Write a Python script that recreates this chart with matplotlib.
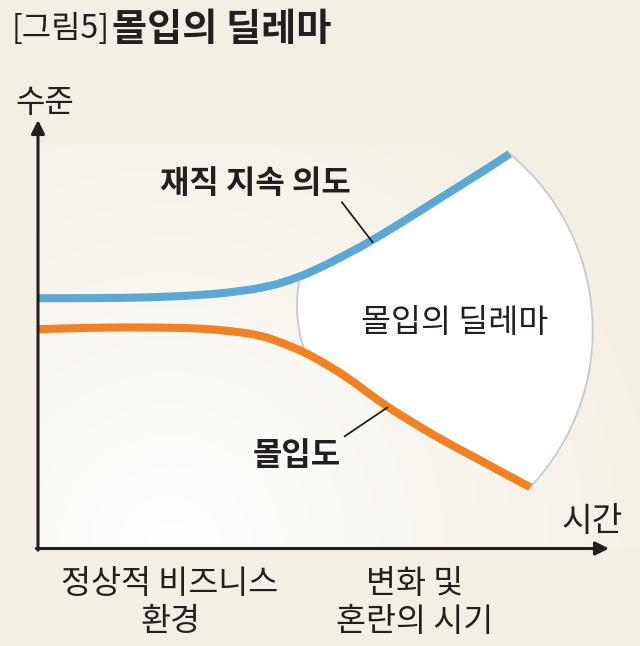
import numpy as np
import matplotlib
matplotlib.use("Agg")
import matplotlib.pyplot as plt
from matplotlib.path import Path
from matplotlib.patches import PathPatch

plt.rcParams['font.family'] = ['Noto Sans CJK KR', 'DejaVu Sans']

# chart data (time 0-100, level 0-100)
blue_t = [0, 10.9, 19.8, 28.6, 35.6, 40.9, 44.4, 48.5, 53.8, 59.1, 65.6, 71.8, 78.0, 83.2]
blue_l = [58.4, 58.4, 58.6, 59.1, 60.0, 61.2, 62.6, 64.7, 68.2, 72.0, 77.3, 82.5, 87.6, 92.1]
orange_t = [0, 10.9, 19.8, 28.6, 34.4, 39.2, 43.2, 46.2, 49.7, 54.5, 58.0, 61.6, 65.6, 69.1, 73.5, 78.0, 82.4, 86.8]
orange_l = [51.2, 51.6, 51.6, 51.4, 50.7, 49.8, 47.9, 46.3, 43.9, 40.0, 36.5, 33.1, 29.8, 27.0, 23.7, 20.6, 17.4, 14.3]

# dilemma region edges (bezier control points in data units)
right_arc = [(83.2, 92.1), (101.2, 72.4), (102.8, 36.7), (86.8, 14.3)]
left_arc_t = [47.1, 44.8, 46.2]
left_arc_ctrl_l = 54.4

title_tag = "[그림5]"
title_main = "몰입의 딜레마"
y_label = "수준"
x_label = "시간"
blue_label = "재직 지속 의도"
orange_label = "몰입도"
region_label = "몰입의 딜레마"
period_labels = ["정상적 비즈니스\n환경", "변화 및\n혼란의 시기"]
period_pos = [23.3, 66.5]

BG = "#f4efe4"
BLUE = "#5aa8d3"
ORANGE = "#f28123"
INK = "#231f20"
GRAY = "#c9c9cc"


def smooth_path(ts, ls):
    # quadratic b-spline through the read points, ends kept
    pts = list(zip(ts, ls))
    verts = [pts[0]]
    codes = [Path.MOVETO]
    for i in range(1, len(pts) - 2):
        mid = ((pts[i][0] + pts[i + 1][0]) / 2, (pts[i][1] + pts[i + 1][1]) / 2)
        verts += [pts[i], mid]
        codes += [Path.CURVE3, Path.CURVE3]
    verts += [pts[-2], pts[-1]]
    codes += [Path.CURVE3, Path.CURVE3]
    return Path(verts, codes)


fig = plt.figure(figsize=(6.4, 6.46), dpi=100)
fig.patch.set_facecolor(BG)
ax = fig.add_axes([38 / 640, (646 - 548.5) / 646, 571 / 640, (548.5 - 120) / 646])
ax.set_facecolor("none")
for s in ax.spines.values():
    s.set_visible(False)
ax.set_xticks([])
ax.set_yticks([])

# soft gradient behind the plot area
gx = np.linspace(0, 106, 320)
gy = np.linspace(0, 94.2, 240)
X, Y = np.meshgrid(gx, gy)
d = np.hypot((X - 23.3) * 5.67, (Y - 0) * 4.28)
f = np.clip(d / 520, 0, 1) ** 0.9
bg_rgb = np.array(matplotlib.colors.to_rgb(BG))
img = (1 - f)[..., None] * np.ones(3) + f[..., None] * bg_rgb
ax.imshow(img, extent=(0, 106, 0, 94.2), origin="lower", aspect="auto",
          zorder=0, clip_on=False, interpolation="bilinear")

# white dilemma region
bt = np.array(blue_t)
bl = np.array(blue_l)
ot = np.array(orange_t)
ol = np.array(orange_l)
t_top = left_arc_t[2]
t_bot = left_arc_t[0]
top_start = (t_top, np.interp(t_top, bt, bl))
bot_end = (t_bot, np.interp(t_bot, ot, ol))

verts = [top_start]
codes = [Path.MOVETO]
for t, l in zip(bt, bl):
    if t > t_top:
        verts.append((t, l))
        codes.append(Path.LINETO)
verts += right_arc[1:]
codes += [Path.CURVE4] * 3
for t, l in list(zip(ot, ol))[::-1][1:]:
    if t > t_bot:
        verts.append((t, l))
        codes.append(Path.LINETO)
verts.append(bot_end)
codes.append(Path.LINETO)
verts += [(left_arc_t[1], left_arc_ctrl_l), top_start]
codes += [Path.CURVE3, Path.CURVE3]
verts.append(top_start)
codes.append(Path.CLOSEPOLY)
ax.add_patch(PathPatch(Path(verts, codes), facecolor="white", edgecolor="none",
                       zorder=2, clip_on=False))

# gray arcs
ax.add_patch(PathPatch(Path(right_arc, [Path.MOVETO] + [Path.CURVE4] * 3),
                       facecolor="none", edgecolor=GRAY, lw=1.3, zorder=2.5, clip_on=False))
ax.add_patch(PathPatch(Path([bot_end, (left_arc_t[1], left_arc_ctrl_l), top_start],
                            [Path.MOVETO, Path.CURVE3, Path.CURVE3]),
                       facecolor="none", edgecolor=GRAY, lw=1.3, zorder=2.5, clip_on=False))

# the two curves
for ts, ls, col in [(blue_t, blue_l, BLUE), (orange_t, orange_l, ORANGE)]:
    p = PathPatch(smooth_path(ts, ls), facecolor="none", edgecolor=col, lw=5.8,
                  capstyle="butt", joinstyle="round", zorder=3, clip_on=False)
    ax.add_patch(p)

# leader lines and labels
ax.plot([53.6, 59.0], [80.8, 71.5], color=INK, lw=1.3, zorder=4)
ax.plot([54.1, 61.6], [26.2, 32.9], color=INK, lw=1.3, zorder=4)
ax.text(38.3, 85.0, blue_label, fontsize=23, fontweight="bold", color=INK,
        ha="center", va="center", zorder=5)
ax.text(45.7, 21.5, orange_label, fontsize=23, fontweight="bold", color=INK,
        ha="center", va="center", zorder=5)
ax.text(73.5, 52.6, region_label, fontsize=23.5, color=INK, ha="center", va="center", zorder=5)

# axes with arrows
arrow = dict(arrowstyle="-|>", lw=2.2, color=INK, mutation_scale=20, shrinkA=0, shrinkB=0)
ax.annotate("", xy=(0, 1), xytext=(0, -0.004), xycoords="axes fraction", arrowprops=arrow)
ax.annotate("", xy=(1, 0), xytext=(-0.003, 0), xycoords="axes fraction", arrowprops=arrow)

ax.set_xlim(0, 100.7)
ax.set_ylim(0, 100)

ax.text(97.8, 6.3, x_label, fontsize=24, color=INK, ha="center", va="center")
fig.text(45 / 640, 1 - 103 / 646, y_label, fontsize=23, color=INK, ha="center", va="center")

for x, lab in zip(period_pos, period_labels):
    ax.text(x, -4.6, lab, fontsize=23.5, color=INK, ha="center", va="top",
            linespacing=1.25)

fig.text(12 / 640, 1 - 29 / 646, title_tag, fontsize=23, color=INK, ha="left", va="center")
fig.text(112 / 640, 1 - 29 / 646, title_main, fontsize=27.5, fontweight="bold",
         color=INK, ha="left", va="center")

fig.savefig("out.png", dpi=100, facecolor=BG)
